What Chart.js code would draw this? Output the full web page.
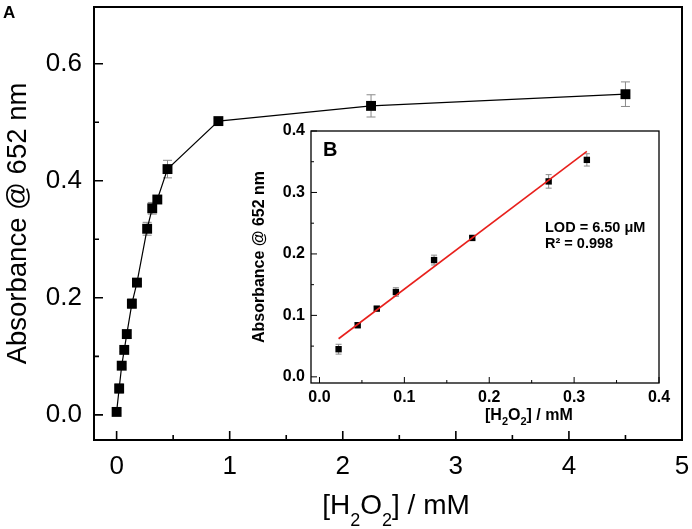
<!DOCTYPE html>
<html>
<head>
<meta charset="utf-8">
<script src="https://cdn.jsdelivr.net/npm/chart.js@4.4.1/dist/chart.umd.min.js"></script>
<style>
  html, body { margin: 0; padding: 0; background: #fff; }
  #wrap { position: relative; width: 692px; height: 529px; overflow: hidden; background: #fff; }
  #main { position: absolute; left: 0; top: 0; }
  #inset { position: absolute; left: 240px; top: 115px; }
</style>
</head>
<body>
<div id="wrap">
  <canvas id="main" width="692" height="529" style="width:692px;height:529px"></canvas>
  <canvas id="inset" width="440" height="320" style="width:440px;height:320px"></canvas>
</div>
<script>
// ---------- data ----------
const mainX   = [0, 0.0225, 0.045, 0.0675, 0.09, 0.135, 0.18, 0.27, 0.315, 0.36, 0.45, 0.9, 2.25, 4.5];
const mainY   = [0.005, 0.045, 0.084, 0.111, 0.138, 0.190, 0.226, 0.318, 0.353, 0.368, 0.420, 0.502, 0.528, 0.548];
const mainErr = [0.002, 0.008, 0.004, 0.003, 0.007, 0.008, 0.003, 0.011, 0.010, 0.004, 0.015, 0.004, 0.019, 0.021];

const insetX   = [0.0225, 0.045, 0.0675, 0.09, 0.135, 0.18, 0.27, 0.315];
const insetY   = [0.045, 0.084, 0.111, 0.138, 0.190, 0.226, 0.318, 0.353];
const insetErr = [0.008, 0.004, 0.003, 0.007, 0.008, 0.003, 0.011, 0.010];

const fitX = [0.0225, 0.315];
const fitY = [0.062, 0.367];

const mainXTicks  = [0, 1, 2, 3, 4, 5];
const mainXMinor  = [0.5, 1.5, 2.5, 3.5, 4.5];
const mainYTicks  = [0, 0.2, 0.4, 0.6];
const mainYMinor  = [0.1, 0.3, 0.5];
const insetXTicks = [0, 0.1, 0.2, 0.3, 0.4];
const insetXMinor = [0.05, 0.15, 0.25, 0.35];
const insetYTicks = [0, 0.1, 0.2, 0.3, 0.4];
const insetYMinor = [0.05, 0.15, 0.25, 0.35];

const yTitle = 'Absorbance @ 652 nm';
const xTitleParts = [{t: '[H'}, {t: '2', sub: true}, {t: 'O'}, {t: '2', sub: true}, {t: '] / mM'}];
const lodText = 'LOD = 6.50 \u03BCM';
const r2Text  = 'R\u00B2 = 0.998';

// ---------- helpers ----------
const FAMILY = "'Liberation Sans', Arial, Helvetica, sans-serif";
Chart.defaults.font.family = FAMILY;
Chart.defaults.color = '#000';

function drawRich(ctx, parts, x, y, size, weight, subScale, subDrop, align, baseline) {
  const fm = `${weight} ${size}px ${FAMILY}`;
  const fs = `${weight} ${Math.round(size * subScale)}px ${FAMILY}`;
  let total = 0;
  const widths = parts.map(p => { ctx.font = p.sub ? fs : fm; const w = ctx.measureText(p.t).width; total += w; return w; });
  let cx = align === 'center' ? x - total / 2 : x;
  ctx.textAlign = 'left';
  ctx.textBaseline = baseline || 'alphabetic';
  parts.forEach((p, i) => {
    ctx.font = p.sub ? fs : fm;
    ctx.fillText(p.t, cx, p.sub ? y + subDrop : y);
    cx += widths[i];
  });
}

const frameTicks = {
  id: 'frameTicks',
  afterDraw(chart, args, o) {
    const {ctx, chartArea: a, scales} = chart;
    const xs = scales.x, ys = scales.y;
    ctx.save();
    ctx.strokeStyle = '#000';
    ctx.lineWidth = o.tickWidth;
    ctx.beginPath();
    o.xMajor.forEach(v => { const p = xs.getPixelForValue(v); ctx.moveTo(p, a.bottom); ctx.lineTo(p, a.bottom - o.major); });
    o.xMinor.forEach(v => { const p = xs.getPixelForValue(v); ctx.moveTo(p, a.bottom); ctx.lineTo(p, a.bottom - o.minor); });
    o.yMajor.forEach(v => { const p = ys.getPixelForValue(v); ctx.moveTo(a.left, p); ctx.lineTo(a.left + o.major, p); });
    o.yMinor.forEach(v => { const p = ys.getPixelForValue(v); ctx.moveTo(a.left, p); ctx.lineTo(a.left + o.minor, p); });
    ctx.stroke();
    ctx.lineWidth = o.frameWidth;
    ctx.strokeRect(a.left, a.top, a.right - a.left, a.bottom - a.top);
    ctx.restore();
  }
};

const errorBars = {
  id: 'errorBars',
  beforeDatasetsDraw(chart, args, o) {
    const {ctx, scales} = chart;
    ctx.save();
    ctx.strokeStyle = o.color;
    ctx.lineWidth = o.width;
    chart.data.datasets.forEach(ds => {
      if (!ds.errors) return;
      ds.data.forEach((pt, i) => {
        const e = ds.errors[i];
        const px = scales.x.getPixelForValue(pt.x);
        const y1 = scales.y.getPixelForValue(pt.y + e);
        const y2 = scales.y.getPixelForValue(pt.y - e);
        ctx.beginPath();
        ctx.moveTo(px, y1); ctx.lineTo(px, y2);
        ctx.moveTo(px - o.cap / 2, y1); ctx.lineTo(px + o.cap / 2, y1);
        ctx.moveTo(px - o.cap / 2, y2); ctx.lineTo(px + o.cap / 2, y2);
        ctx.stroke();
      });
    });
    ctx.restore();
  }
};

const texts = {
  id: 'texts',
  afterDraw(chart, args, o) {
    const ctx = chart.ctx;
    ctx.save();
    ctx.fillStyle = '#000';
    o.items.forEach(it => {
      const x = typeof it.x === 'function' ? it.x(chart) : it.x;
      drawRich(ctx, it.parts, x, it.y, it.size, it.weight || 'normal', it.subScale || 0.65, it.subDrop || 0, it.align || 'left', it.baseline);
    });
    ctx.restore();
  }
};

// ---------- main chart ----------
new Chart(document.getElementById('main'), {
  type: 'scatter',
  data: {
    datasets: [{
      data: mainX.map((x, i) => ({x, y: mainY[i]})),
      errors: mainErr,
      showLine: true,
      borderColor: '#000',
      borderWidth: 1.2,
      pointStyle: 'rect',
      pointRadius: 7,
      pointBackgroundColor: '#000',
      pointBorderColor: '#000',
      pointBorderWidth: 0
    }]
  },
  options: {
    responsive: false,
    animation: false,
    events: [],
    layout: {padding: {left: 0, right: 10, top: 5, bottom: 0}},
    plugins: {
      legend: {display: false},
      tooltip: {enabled: false},
      frameTicks: {xMajor: mainXTicks, xMinor: mainXMinor, yMajor: mainYTicks, yMinor: mainYMinor, major: 9, minor: 5, tickWidth: 1.6, frameWidth: 2},
      errorBars: {color: '#8a8a8a', width: 1, cap: 9},
      texts: {items: [
        {parts: [{t: 'A'}], x: 3, y: 18, size: 17, weight: 'bold'},
        {parts: xTitleParts, x: 396, y: 514, size: 28, subScale: 0.65, subDrop: 12, align: 'center'}
      ]}
    },
    scales: {
      x: {
        type: 'linear', min: -0.2, max: 5,
        afterBuildTicks: s => { s.ticks = mainXTicks.map(v => ({value: v})); },
        afterFit: s => { s.height = 89; s.paddingLeft = 0; s.paddingRight = 0; },
        grid: {display: false, drawTicks: false},
        border: {display: false},
        ticks: {padding: 11, font: {size: 26}, color: '#000', autoSkip: false, maxRotation: 0, callback: v => String(v)}
      },
      y: {
        type: 'linear', min: -0.043, max: 0.697,
        afterBuildTicks: s => { s.ticks = mainYTicks.map(v => ({value: v})); },
        afterFit: s => { s.width = 94; s.paddingTop = 0; s.paddingBottom = 0; },
        grid: {display: false, drawTicks: false},
        border: {display: false},
        ticks: {padding: 12, font: {size: 26}, color: '#000', callback: v => Number(v).toFixed(1)},
        title: {display: true, text: yTitle, font: {size: 27.5}, color: '#000', padding: {top: 2, bottom: 0}}
      }
    }
  },
  plugins: [errorBars, frameTicks, texts]
});

// ---------- inset chart ----------
new Chart(document.getElementById('inset'), {
  type: 'scatter',
  data: {
    datasets: [
      {
        data: fitX.map((x, i) => ({x, y: fitY[i]})),
        showLine: true,
        borderColor: '#e8201c',
        borderWidth: 1.6,
        pointRadius: 0
      },
      {
        data: insetX.map((x, i) => ({x, y: insetY[i]})),
        errors: insetErr,
        showLine: false,
        pointStyle: 'rect',
        pointRadius: 4.5,
        pointBackgroundColor: '#000',
        pointBorderColor: '#000',
        pointBorderWidth: 0
      }
    ]
  },
  options: {
    responsive: false,
    animation: false,
    events: [],
    layout: {padding: {left: 0, right: 21, top: 16, bottom: 0}},
    plugins: {
      legend: {display: false},
      tooltip: {enabled: false},
      frameTicks: {xMajor: insetXTicks, xMinor: insetXMinor, yMajor: insetYTicks, yMinor: insetYMinor, major: 6, minor: 3, tickWidth: 1, frameWidth: 1.3},
      errorBars: {color: '#8a8a8a', width: 1, cap: 6},
      texts: {items: [
        {parts: [{t: 'B'}], x: 83, y: 41, size: 20, weight: 'bold'},
        {parts: [{t: lodText}], x: 305, y: 117, size: 14.5, weight: 'bold'},
        {parts: [{t: r2Text}], x: 305, y: 133, size: 14.5, weight: 'bold'},
        {parts: xTitleParts, x: c => (c.chartArea.left + c.chartArea.right) / 2, y: 305, size: 16, weight: 'bold', subScale: 0.7, subDrop: 5}
      ]}
    },
    scales: {
      x: {
        type: 'linear', min: -0.01, max: 0.4,
        afterBuildTicks: s => { s.ticks = insetXTicks.map(v => ({value: v})); },
        afterFit: s => { s.height = 52; s.paddingLeft = 0; s.paddingRight = 0; },
        grid: {display: false, drawTicks: false},
        border: {display: false},
        ticks: {padding: 5, font: {size: 16, weight: 'bold'}, color: '#000', autoSkip: false, maxRotation: 0, callback: v => Number(v).toFixed(1)}
      },
      y: {
        type: 'linear', min: -0.01, max: 0.4,
        afterBuildTicks: s => { s.ticks = insetYTicks.map(v => ({value: v})); },
        afterFit: s => { s.width = 71; s.paddingTop = 0; s.paddingBottom = 0; },
        grid: {display: false, drawTicks: false},
        border: {display: false},
        ticks: {padding: 6, font: {size: 16, weight: 'bold'}, color: '#000', callback: v => Number(v).toFixed(1)},
        title: {display: true, text: yTitle, font: {size: 16, weight: 'bold'}, color: '#000', padding: {top: 10, bottom: 0}}
      }
    }
  },
  plugins: [errorBars, frameTicks, texts]
});
</script>
</body>
</html>
